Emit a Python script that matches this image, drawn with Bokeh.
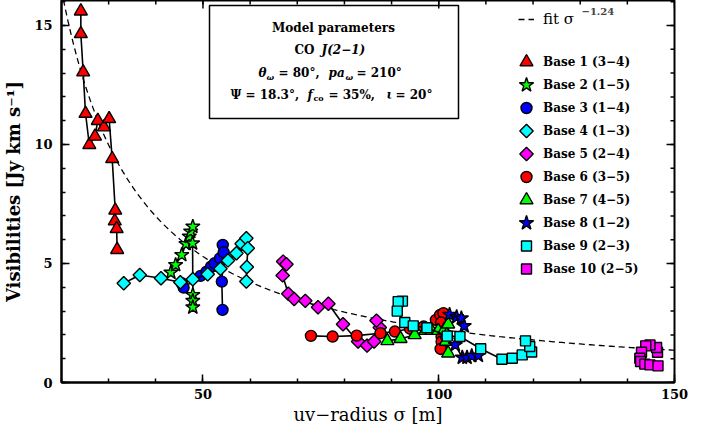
import numpy as np
from bokeh.plotting import figure
from bokeh.models import (Range1d, LinearAxis, FixedTicker, Legend, LegendItem,
                          Label, BoxAnnotation, Grid)
from bokeh.embed import file_html
from bokeh.resources import INLINE

# ---------------- data ----------------
base_names = ["Base 1 (3−4)", "Base 2 (1−5)", "Base 3 (1−4)", "Base 4 (1−3)",
              "Base 5 (2−4)", "Base 6 (3−5)", "Base 7 (4−5)", "Base 8 (1−2)",
              "Base 9 (2−3)", "Base 10 (2−5)"]

b1_x = [24.1, 24.1, 24.6, 25.1, 25.9, 27.1, 27.7, 29.0, 30.1, 30.75, 31.4, 31.3, 31.7, 31.8]
b1_y = [15.6, 14.65, 13.04, 11.3, 9.99, 10.34, 11.0, 10.73, 11.08, 9.4, 7.23, 6.78, 6.46, 5.58]

b2_x = [43.2, 44.2, 45.5, 46.4, 47.1, 47.4, 47.85, 47.8, 47.85, 47.85, 47.85]
b2_y = [4.62, 4.94, 5.36, 5.82, 6.13, 6.34, 6.55, 5.85, 3.68, 3.43, 3.16]

b3_x = [45.5, 45.9, 49.5, 50.75, 51.7, 52.5, 53.6, 54.2, 54.4, 54.0, 54.15]
b3_y = [4.17, 3.99, 4.48, 4.66, 4.87, 5.01, 5.22, 5.78, 5.47, 4.24, 3.05]

b4_x = [33.2, 36.6, 41.1, 45.2, 47.85, 51.0, 53.7, 55.3, 57.1, 58.2, 59.2, 59.5, 59.3, 59.2]
b4_y = [4.17, 4.52, 4.38, 4.21, 4.34, 4.55, 4.78, 5.13, 5.43, 5.83, 6.06, 5.64, 4.85, 4.24]

b5_x = [67.0, 67.7, 66.9, 68.1, 69.35, 71.7, 74.4, 76.6, 79.7, 82.9, 84.8, 86.3, 87.5, 86.8]
b5_y = [5.08, 4.97, 4.5, 3.73, 3.51, 3.43, 3.16, 3.31, 2.45, 1.72, 1.55, 1.72, 2.31, 2.6]

b6_x = [72.9, 77.5, 82.6, 87.65, 90.7, 93.9, 96.8, 99.4, 100.3, 101.0, 100.5, 100.6, 100.6, 100.4]
b6_y = [1.96, 1.93, 1.97, 2.07, 2.14, 2.26, 2.35, 2.63, 2.84, 2.91, 2.52, 1.93, 1.72, 1.41]

b7_x = [89.1, 91.9, 94.9, 97.2, 98.5, 99.9, 101.2, 102.0, 101.7, 101.5, 102.0]
b7_y = [1.75, 1.84, 2.0, 2.18, 2.18, 2.18, 2.22, 2.45, 2.0, 1.72, 1.23]

b8_x = [102.3, 103.8, 104.8, 105.4, 103.5, 105.0, 106.0, 107.0, 108.4]
b8_y = [2.85, 2.75, 2.7, 2.37, 1.58, 1.05, 1.05, 1.12, 1.13]

b9_x = [92.3, 91.4, 91.2, 92.8, 94.6, 97.5, 101.8, 104.5, 108.9, 113.4, 115.6, 117.7, 119.7, 119.3, 118.4]
b9_y = [3.42, 3.4, 3.0, 2.52, 2.38, 2.3, 1.95, 1.93, 1.42, 0.98, 1.02, 1.16, 1.28, 1.51, 1.75]

b10_x = [146.4, 146.2, 144.8, 143.9, 143.0, 142.65, 142.8, 143.7, 144.8, 146.5]
b10_y = [1.27, 1.47, 1.58, 1.54, 1.27, 1.02, 0.88, 0.77, 0.74, 0.70]

fit_amplitude = 677.0
fit_exponent = -1.24

x_major = [50, 100, 150]
x_minor = list(range(20, 151, 10))
y_major = [0, 5, 10, 15]
y_minor = list(range(0, 17))

# ---------------- styles ----------------
xs = [b1_x, b2_x, b3_x, b4_x, b5_x, b6_x, b7_x, b8_x, b9_x, b10_x]
ys = [b1_y, b2_y, b3_y, b4_y, b5_y, b6_y, b7_y, b8_y, b9_y, b10_y]
markers = ["triangle", "star", "circle", "diamond", "diamond", "circle",
           "triangle", "star", "square", "square"]
colors = ["#ff0000", "#00ff00", "#0000ff", "#00ffff", "#ff00ff", "#ff0000",
          "#00ff00", "#0000ff", "#00ffff", "#ff00ff"]
# (bokeh marker, size, angle)
mstyle = {"triangle": ("triangle", 13, 0.0), "star": ("star", 15, 0.0),
          "circle": ("circle", 11, 0.0), "diamond": ("square", 9.5, np.pi / 4),
          "square": ("square", 10, 0.0)}

FONT = "DejaVu Serif"
X0, X1 = 20, 150
Y0, Y1 = 0, 16.05
FL, FR, FT, FB = 65, 678, 8, 390   # intended frame (page px)

# legend layout (page px)
LEG_LEFT = 520
LEG_GW = 20
LEG_STEP = 23
LEG_BOTTOM = 288
N_ITEMS = len(base_names)
LEG_TOP = LEG_BOTTOM - N_ITEMS * LEG_STEP


def px2x(px):
    return X0 + (px - FL) * (X1 - X0) / (FR - FL)


def px2y(py):
    return Y0 + (FB - py) * (Y1 - Y0) / (FB - FT)


p = figure(frame_width=FR - FL, frame_height=FB - FT,
           output_backend="svg", toolbar_location=None,
           x_range=Range1d(X0, X1), y_range=Range1d(Y0, Y1),
           x_axis_location=None, y_axis_location=None,
           min_border_left=FL - 8, min_border_right=22,
           min_border_top=FT - 8, min_border_bottom=435 - FB)
p.outline_line_color = "black"
p.outline_line_width = 2
p.background_fill_color = "white"
p.border_fill_color = "white"
for r in list(p.center):
    if isinstance(r, Grid):
        r.visible = False


def style_axis(ax):
    ax.axis_line_width = 2
    ax.major_tick_in = 8
    ax.major_tick_out = 0
    ax.minor_tick_in = 4
    ax.minor_tick_out = 0
    ax.major_tick_line_width = 1.5
    ax.minor_tick_line_width = 1.5
    ax.major_label_text_font = FONT
    ax.major_label_text_font_style = "bold"
    ax.major_label_text_color = "black"
    ax.major_label_text_font_size = "13px"
    ax.axis_label_text_color = "black"
    ax.axis_label_text_font = FONT


xt = FixedTicker(ticks=x_major, minor_ticks=x_minor)
yt = FixedTicker(ticks=y_major, minor_ticks=y_minor)

ax_b = LinearAxis(ticker=xt)
style_axis(ax_b)
ax_b.major_label_standoff = 6
ax_b.axis_label = "uv−radius σ [m]"
ax_b.axis_label_text_font_style = "normal"
ax_b.axis_label_text_font_size = "18px"
ax_b.axis_label_standoff = 2
p.add_layout(ax_b, "below")

ax_l = LinearAxis(ticker=yt)
style_axis(ax_l)
ax_l.major_label_standoff = 9
ax_l.axis_label = "Visibilities [Jy km s⁻¹]"
ax_l.axis_label_text_font_style = "bold"
ax_l.axis_label_text_font_size = "18px"
ax_l.axis_label_standoff = 7
p.add_layout(ax_l, "left")

# inward ticks on top and right frame edges
tick_kw = dict(length_units="screen", line_color="black", line_width=1.5)
p.ray(x=x_major, y=[Y1] * len(x_major), length=8, angle=-np.pi / 2, **tick_kw)
p.ray(x=x_minor, y=[Y1] * len(x_minor), length=4, angle=-np.pi / 2, **tick_kw)
p.ray(x=[X1] * len(y_major), y=y_major, length=8, angle=np.pi, **tick_kw)
p.ray(x=[X1] * len(y_minor), y=y_minor, length=4, angle=np.pi, **tick_kw)

# fit curve
sig = np.linspace(X0, X1, 300)
fit_r = p.line(sig, fit_amplitude * sig ** fit_exponent, line_color="black",
               line_width=1.3, line_dash="6 4")

# invisible renderer: the legend only supplies the labels, keys drawn below
ghost = p.scatter(x=[], y=[], marker="circle", size=1, fill_alpha=0, line_alpha=0)

# bases
items = []
for k, (name, x, y, m, c) in enumerate(zip(base_names, xs, ys, markers, colors)):
    mk, sz, ang = mstyle[m]
    p.line(x, y, line_color="black", line_width=1.6)
    p.scatter(x, y, marker=mk, size=sz, angle=ang, fill_color=c,
              line_color="black", line_width=1.4)
    # legend key
    p.scatter(x=[px2x(LEG_LEFT + LEG_GW / 2)],
              y=[px2y(LEG_TOP + LEG_STEP * (k + 0.5))],
              marker=mk, size=sz, angle=ang, fill_color=c,
              line_color="black", line_width=1.4)
    items.append(LegendItem(label=name, renderers=[ghost]))

leg = Legend(items=items, location=(LEG_LEFT - FL, FB - LEG_BOTTOM),
             padding=0, margin=0, spacing=0,
             glyph_width=LEG_GW, glyph_height=LEG_STEP, label_height=LEG_STEP,
             label_standoff=7, border_line_color=None, background_fill_alpha=0,
             label_text_font=FONT, label_text_font_style="bold",
             label_text_font_size="12px", label_text_color="black")
p.add_layout(leg)

leg_fit = Legend(items=[LegendItem(label="fit σ", renderers=[fit_r])],
                 location=(457, FB - 37), padding=0, margin=0,
                 glyph_width=16, glyph_height=20, label_height=20,
                 label_standoff=9, border_line_color=None, background_fill_alpha=0,
                 label_text_font=FONT, label_text_font_size="15px",
                 label_text_color="black")
p.add_layout(leg_fit)
p.add_layout(Label(x=px2x(585), y=px2y(19), text="−1.24", text_font=FONT,
                   text_font_style="bold", text_font_size="10px",
                   text_baseline="middle", text_align="left"))

# model parameter box
p.add_layout(BoxAnnotation(left=px2x(213), right=px2x(462), top=px2y(13),
                           bottom=px2y(126), fill_alpha=0, fill_color=None,
                           line_color="black", line_width=1.5, line_alpha=1))


def txt(px, py, s, size="12px", style="bold", align="left"):
    p.add_layout(Label(x=px2x(px), y=px2y(py), text=s, text_font=FONT,
                       text_font_style=style, text_font_size=size,
                       text_baseline="middle", text_align=align,
                       text_color="black"))


txt(337, 35, "Model parameters", align="center")
txt(318, 57, "CO", align="right")
txt(325, 57, "J(2−1)", style="bold italic")
# line 3
txt(262, 80, "θ", style="bold italic")
txt(270, 84, "ω", size="8px", style="bold italic")
txt(282, 80, "= 80°,")
txt(332, 80, "pa", style="bold italic")
txt(349, 84, "ω", size="8px", style="bold italic")
txt(360, 80, "= 210°")
# line 4
txt(234, 102, "Ψ")
txt(249, 102, "= 18.3°,")
txt(311, 102, "f", style="bold italic")
txt(317, 105, "co", size="8px")
txt(332, 102, "= 35%,")
txt(390, 102, "ι", style="bold italic")
txt(399, 102, "= 20°")

open("out.html", "w").write(file_html(p, INLINE))
